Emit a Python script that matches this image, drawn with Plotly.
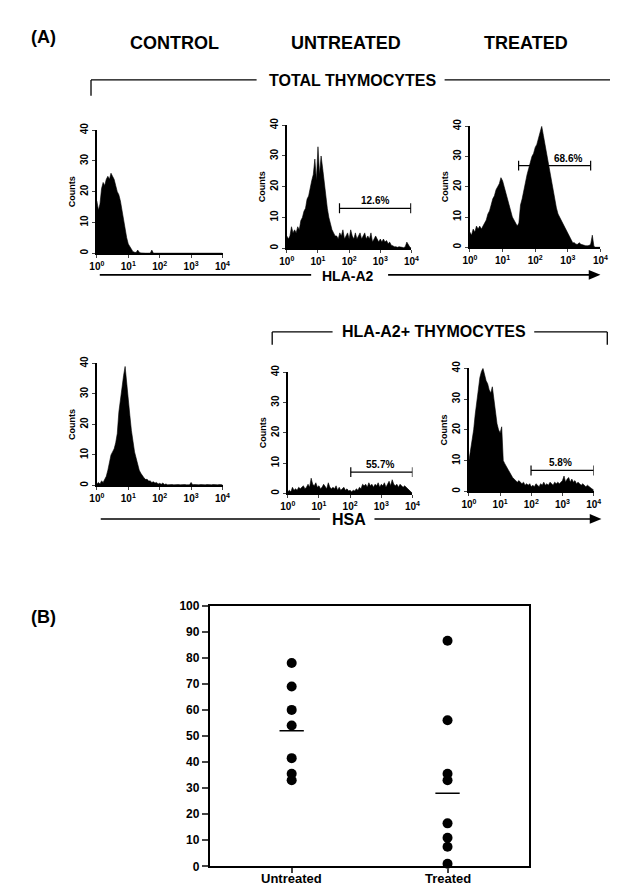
import numpy as np
import plotly.graph_objects as go

W, H = 618, 889
FONT = "Liberation Sans"

# ---------------- data ----------------
# channel positions (log10 fluorescence, 1/20-decade steps from 10^0 to 10^4)
log_channels = [i * 0.05 for i in range(81)]

ctrl_hla = [17, 14, 16, 21, 23, 22, 24, 25, 24, 26,
            25, 24, 22, 20, 19, 17, 14, 11, 7, 5,
            3, 2, 1, 0.5, 0.3, 0.2, 1, 0.3, 0.1, 0,
            0, 0, 0, 0, 0, 1, 0, 0, 0, 0,
            0, 0, 0, 0, 0, 0, 0, 0, 0, 0,
            0, 0, 0, 0, 0, 0, 0, 0, 0, 0,
            0, 0, 0, 0, 0, 0, 0, 0, 0, 0,
            0, 0, 0, 0, 0, 0, 0, 0, 0, 0,
            0]
untr_hla = [4, 3, 4, 7, 5, 6, 5, 7, 6, 9,
            10, 12, 13, 16, 17, 20, 22, 24, 29, 22,
            33, 24, 30, 26, 21, 17, 13, 10, 8, 6,
            5, 4, 4, 3, 5, 4, 6, 3, 4, 5,
            3, 6, 4, 3, 5, 3, 4, 5, 3, 4,
            5, 3, 4, 3, 5, 2, 3, 4, 3, 2,
            3, 2, 3, 2, 2.5, 1.5, 2, 1, 0.8, 0.5,
            0.5, 0.3, 0.5, 0.3, 0.3, 0.2, 0.5, 2, 1, 0.3,
            0]
trt_hla = [5, 4, 6, 5, 7, 6, 7, 6, 7, 8,
           9, 11, 12, 14, 16, 17, 19, 20, 21, 23,
           22, 20, 18, 16, 14, 12, 10, 9, 8, 7,
           8, 14, 16, 19, 21, 24, 26, 28, 30, 31,
           33, 34, 36, 38, 40, 37, 34, 31, 27, 24,
           21, 18, 15, 13, 11, 10, 8.5, 8, 7, 6,
           5, 4, 3, 1.5, 1.5, 1, 1, 1.5, 1, 0.8,
           0.6, 0.5, 0.5, 0.6, 1, 4, 0.3, 0, 0, 0,
           0]
ctrl_hsa = [0.5, 1, 0.5, 1.5, 1, 2, 3, 5, 8, 10,
            11, 12, 14, 17, 24, 28, 33, 36, 39, 33,
            27, 23, 18, 14, 11, 9, 7, 5, 4, 3,
            2.5, 2, 2, 1.5, 1.5, 1, 1.2, 0.8, 1, 0.5,
            0.7, 0.4, 0.8, 0.3, 0.5, 0.2, 0.3, 0.2, 0.3, 0.2,
            0.3, 0.2, 0.3, 0.2, 0.3, 0.2, 0.3, 0.2, 0.3, 0.2,
            1, 0.2, 0.3, 0.2, 0.3, 0.2, 0.3, 0.2, 0.3, 0.2,
            0.3, 0.2, 0.3, 0.2, 0.3, 0.2, 0.3, 0.2, 0.3, 0.2,
            0.2]
untr_hsa = [0.5, 1, 0.5, 2, 1, 1.5, 1, 2, 1.5, 2,
            2.5, 1.5, 2, 3, 2, 5, 3, 2.5, 3.5, 2,
            2.5, 1.5, 2, 3, 2, 1.5, 3.5, 2, 1.5, 2,
            1.5, 2.5, 1, 2, 1, 1.5, 2, 1, 1.5, 0.8,
            1, 0.5, 1, 0.8, 1.5, 1, 2, 1.5, 3, 2.5,
            3, 2, 3.5, 2.5, 3, 2, 3, 2.5, 3.5, 2,
            3, 2.5, 3.5, 2, 3, 4, 2.5, 4.5, 3, 2.5,
            3, 2, 3, 2.5, 2, 2.5, 2, 1.5, 1, 0.5,
            0]
trt_hsa = [10, 13, 16, 20, 25, 30, 33, 37, 39, 40,
           38, 36, 35, 33, 32, 34, 30, 25, 22, 20,
           19, 21, 10, 9, 8, 7, 6, 5.5, 4.5, 4,
           3.5, 3, 3.5, 3, 2.5, 3, 2, 2.5, 2, 2.5,
           1.5, 2, 1.5, 2.5, 2, 1.5, 2.5, 2, 3, 2,
           2.5, 2, 3, 2.5, 2, 3, 2.5, 3, 2.5, 3,
           3.5, 5, 3, 4, 4.5, 3, 4, 3, 3.5, 2.5,
           3, 2.5, 2, 2.5, 2, 1.5, 2, 1.5, 1, 0.8,
           0.5]

hist_series = [ctrl_hla, untr_hla, trt_hla, ctrl_hsa, untr_hsa, trt_hsa]

# gates (panel index, low, high, height, label, label position in log10 units)
gate_panels = [2, 3, 5, 6]
gate_lo = [49, 31, 105, 98]
gate_hi = [9500, 5000, 10000, 10000]
gate_y = [13, 27, 7, 6.8]
gate_labels = ["12.6%", "68.6%", "55.7%", "5.8%"]
gate_label_log = [2.83, 3.0, 2.95, 2.93]

x_tick_vals = [1, 10, 100, 1000, 10000]
x_tick_text = ["10<sup>0</sup>", "10<sup>1</sup>", "10<sup>2</sup>", "10<sup>3</sup>", "10<sup>4</sup>"]
y_tick_vals = [0, 10, 20, 30, 40]

# panel B
groups = ["Untreated", "Treated"]
untreated_pct = [78, 69, 60, 54, 41.5, 35.5, 33]
treated_pct = [86.5, 56, 35.5, 33, 16.5, 11, 7.5, 1]
mean_pct = [52, 28]

# ---------------- layout helpers ----------------
def dom_x(a, b):
    return [a / W, b / W]

def dom_y(top, bottom):
    return [1 - bottom / H, 1 - top / H]

def px(x, y):
    return x / W, 1 - y / H

# pixel boxes of the histogram plotting areas: (left, right, top, bottom)
boxes = [(83, 212, 117, 242), (278, 406, 112, 237), (466, 600, 113, 236),
         (83, 212, 354, 478), (279, 407, 363, 486), (465, 593, 359, 484)]

fig = go.Figure()
layout = dict(width=W, height=H, margin=dict(l=0, r=0, t=0, b=0),
              paper_bgcolor="white", plot_bgcolor="white", showlegend=False,
              font=dict(family=FONT, color="black"))

tfont = dict(family=FONT, size=10, color="black", weight="bold")
cfont = dict(family=FONT, size=9, color="black", weight="bold")
xs = [10 ** v for v in log_channels]

for i, (series, box) in enumerate(zip(hist_series, boxes), start=1):
    xa, ya = f"x{i}", f"y{i}"
    fig.add_trace(go.Scatter(x=xs, y=series, mode="lines", fill="tozeroy",
                             fillcolor="black", line=dict(color="black", width=0.6),
                             xaxis=xa, yaxis=ya, hoverinfo="skip"))
    l, r, t, b = box
    layout[f"xaxis{i}"] = dict(domain=dom_x(l, r), anchor=ya, type="log", range=[0, 4.0],
                               tickvals=x_tick_vals, ticktext=x_tick_text, tickfont=tfont,
                               showline=True, linecolor="black", linewidth=1.5,
                               ticks="outside", ticklen=3, tickwidth=1, showgrid=False,
                               zeroline=False)
    layout[f"yaxis{i}"] = dict(domain=dom_y(t, b), anchor=xa, range=[0, 40],
                               tickvals=y_tick_vals, tickfont=tfont, tickangle=-90,
                               showline=True, linecolor="black", linewidth=1.5,
                               ticks="outside", ticklen=3, tickwidth=1, showgrid=False,
                               zeroline=False,
                               title=dict(text="Counts", font=cfont, standoff=2))

annotations = []
for p, lo, hi, gy, lab, lx in zip(gate_panels, gate_lo, gate_hi, gate_y, gate_labels, gate_label_log):
    e = 1.6
    fig.add_trace(go.Scatter(x=[lo, lo, None, lo, hi, None, hi, hi],
                             y=[gy - e, gy + e, None, gy, gy, None, gy - e, gy + e],
                             mode="lines", line=dict(color="black", width=1.2),
                             xaxis=f"x{p}", yaxis=f"y{p}", hoverinfo="skip",
                             cliponaxis=False))
    annotations.append(dict(xref=f"x{p}", yref=f"y{p}", x=lx, y=gy,
                            yanchor="bottom", yshift=0, showarrow=False,
                            text=f"<b>{lab}</b>",
                            font=dict(family=FONT, size=10, color="black")))

# ---------------- panel B ----------------
for gi, vals in enumerate([untreated_pct, treated_pct]):
    fig.add_trace(go.Scatter(x=[gi] * len(vals), y=vals, mode="markers",
                             marker=dict(color="black", size=10),
                             xaxis="x7", yaxis="y7", cliponaxis=False, hoverinfo="skip"))
    fig.add_trace(go.Scatter(x=[gi - 0.078, gi + 0.078], y=[mean_pct[gi]] * 2,
                             mode="lines", line=dict(color="black", width=1.5),
                             xaxis="x7", yaxis="y7", hoverinfo="skip"))
    # category label just under the tick mark
    annotations.append(dict(xref="x7", yref="paper", x=gi, y=1 - 877 / H,
                            xanchor="center", yanchor="middle", showarrow=False,
                            text=f"<b>{groups[gi]}</b>",
                            font=dict(family=FONT, size=13, color="black")))

bfont = dict(family=FONT, size=12, color="black", weight="bold")
layout["xaxis7"] = dict(domain=dom_x(199, 527), anchor="y7", range=[-0.525, 1.525],
                        tickvals=[0, 1], showticklabels=False,
                        showline=True, mirror=True, linecolor="black", linewidth=2,
                        ticks="outside", ticklen=5, tickwidth=1.5, showgrid=False, zeroline=False)
layout["yaxis7"] = dict(domain=dom_y(600, 865), anchor="x7", range=[0, 100], dtick=10,
                        tickfont=bfont, showline=True, mirror=True, linecolor="black",
                        linewidth=2, ticks="outside", ticklen=6, tickwidth=1.5,
                        showgrid=False, zeroline=False)

# ---------------- decorations ----------------
def text(x, y, s, size):
    X, Y = px(x, y)
    annotations.append(dict(xref="paper", yref="paper", x=X, y=Y, xanchor="center",
                            yanchor="middle", showarrow=False, text=f"<b>{s}</b>",
                            font=dict(family=FONT, size=size, color="black")))

text(28, 22, "(A)", 18)
text(163, 28, "CONTROL", 18)
text(339, 28, "UNTREATED", 18)
text(524, 28, "TREATED", 18)
text(345, 67, "TOTAL THYMOCYTES", 16)
text(341, 265, "HLA-A2", 14)
text(429, 322, "HLA-A2+ THYMOCYTES", 16)
text(342, 513, "HSA", 16)
text(28, 612, "(B)", 18)

shapes = []
def seg(x0, y0, x1, y1, w=1.3):
    X0, Y0 = px(x0, y0)
    X1, Y1 = px(x1, y1)
    shapes.append(dict(type="line", xref="paper", yref="paper", x0=X0, y0=Y0, x1=X1, y1=Y1,
                       line=dict(color="black", width=w)))

def head(xtip, y, length=12, half=5):
    a = px(xtip, y); b = px(xtip - length, y - half); c = px(xtip - length, y + half)
    shapes.append(dict(type="path", xref="paper", yref="paper",
                       path=f"M {a[0]},{a[1]} L {b[0]},{b[1]} L {c[0]},{c[1]} Z",
                       fillcolor="black", line=dict(color="black", width=0)))

# total thymocytes bracket
seg(77, 82, 77, 66); seg(77, 66, 247, 66); seg(440, 66, 614, 66); seg(614, 66, 614, 82)
# HLA-A2 arrow
seg(86, 264, 303, 264, 1.6); seg(382, 264, 592, 264, 1.6); head(600, 264)
# HLA-A2+ bracket
seg(263, 335, 263, 322); seg(263, 322, 325, 322); seg(532, 322, 607, 322); seg(607, 322, 607, 335)
# HSA arrow
seg(87, 512, 312, 512, 1.6); seg(368, 512, 592, 512, 1.6); head(601, 512)

layout["annotations"] = annotations
layout["shapes"] = shapes
fig.update_layout(**layout)
fig.write_html("out.html")
